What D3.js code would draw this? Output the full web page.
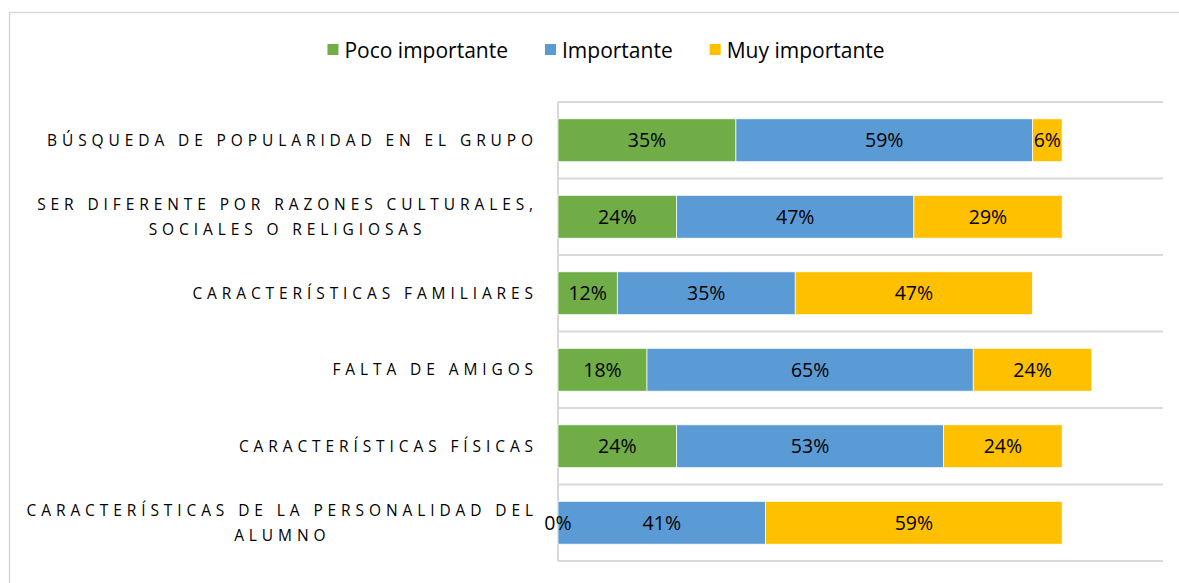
<!DOCTYPE html>
<html>
<head>
<meta charset="utf-8">
<script src="https://cdn.jsdelivr.net/npm/d3@7"></script>
<style>
  html, body { margin: 0; padding: 0; background: #fff; }
  svg { display: block; font-family: "Open Sans", Lato, sans-serif; }
</style>
</head>
<body>
<svg id="chart" width="1179" height="583"></svg>
<script>
// ---- data ----
const categories = [
  "BÚSQUEDA DE POPULARIDAD EN EL GRUPO",
  "SER DIFERENTE POR RAZONES CULTURALES,\nSOCIALES O RELIGIOSAS",
  "CARACTERÍSTICAS FAMILIARES",
  "FALTA DE AMIGOS",
  "CARACTERÍSTICAS FÍSICAS",
  "CARACTERÍSTICAS DE LA PERSONALIDAD DEL\nALUMNO"
];
const seriesNames = ["Poco importante", "Importante", "Muy importante"];
const pocoImportante = [0.3529, 0.2353, 0.1176, 0.1765, 0.2353, 0];
const importante     = [0.5882, 0.4706, 0.3529, 0.6471, 0.5294, 0.4118];
const muyImportante  = [0.0588, 0.2941, 0.4706, 0.2353, 0.2353, 0.5882];
const colors = ["#70AD47", "#5B9BD5", "#FFC000"];

// ---- layout ----
const svg = d3.select("#chart");
const W = 1179, H = 583;
const plot = { left: 558, right: 1163, top: 102, bottom: 561 };

svg.append("rect").attr("x", 9.5).attr("y", 12.5).attr("width", W).attr("height", H)
  .attr("fill", "#fff").attr("stroke", "#d9d9d9").attr("stroke-width", 1.5);

const x = d3.scaleLinear().domain([0, 1.2]).range([plot.left, plot.right]);
const y = d3.scaleBand().domain(categories).range([plot.top, plot.bottom])
  .paddingInner(0.44).paddingOuter(0.22);

const table = categories.map((c, i) => ({
  cat: c, s0: pocoImportante[i], s1: importante[i], s2: muyImportante[i]
}));
const stack = d3.stack().keys(["s0", "s1", "s2"])(table);

// gridlines at band boundaries
const step = y.step();
const boundaries = d3.range(categories.length + 1).map(i => plot.top + i * step);
svg.append("g").selectAll("line").data(boundaries).join("line")
  .attr("x1", plot.left).attr("x2", plot.right)
  .attr("y1", d => d).attr("y2", d => d)
  .attr("stroke", "#d9d9d9").attr("stroke-width", 2);
svg.append("line").attr("x1", plot.left).attr("x2", plot.left)
  .attr("y1", plot.top).attr("y2", plot.bottom)
  .attr("stroke", "#d9d9d9").attr("stroke-width", 2);

// bars
const gBars = svg.append("g");
stack.forEach((layer, k) => {
  gBars.append("g").selectAll("rect").data(layer).join("rect")
    .attr("x", d => x(d[0]))
    .attr("y", d => y(d.data.cat))
    .attr("width", d => x(d[1]) - x(d[0]))
    .attr("height", y.bandwidth())
    .attr("fill", colors[k])
    .attr("stroke", "#fff").attr("stroke-width", 0.7);
});

// data labels
const fmt = d3.format(".0%");
stack.forEach((layer, k) => {
  svg.append("g").selectAll("text").data(layer).join("text")
    .attr("x", d => (x(d[0]) + x(d[1])) / 2)
    .attr("y", d => y(d.data.cat) + y.bandwidth() / 2)
    .attr("dy", "0.36em")
    .attr("text-anchor", "middle")
    .attr("font-size", 19.5)
    .attr("fill", "#000")
    .text(d => fmt(d[1] - d[0]));
});

// category labels
const gCat = svg.append("g");
categories.forEach(c => {
  const lines = c.split("\n");
  const cy = y(c) + y.bandwidth() / 2;
  const lh = 25;
  const t = gCat.append("text")
    .attr("font-size", 15.5)
    .attr("letter-spacing", "4.9px")
    .attr("fill", "#000");
  const spans = lines.map((ln, i) => t.append("tspan")
    .attr("y", cy + (i - (lines.length - 1) / 2) * lh)
    .attr("dy", "0.36em")
    .text(ln));
  const widths = spans.map(s => s.node().getComputedTextLength());
  const maxW = d3.max(widths);
  const right = 538;
  const cx = right - maxW / 2;
  spans.forEach(s => s.attr("x", cx).attr("text-anchor", "middle"));
});

// legend
const leg = svg.append("g");
const legItems = seriesNames.map((n, i) => {
  const g = leg.append("g");
  g.append("rect").attr("x", 0).attr("y", -6).attr("width", 11).attr("height", 11).attr("fill", colors[i]);
  const t = g.append("text").attr("x", 17).attr("y", 0).attr("dy", "0.36em")
    .attr("font-size", 21).attr("fill", "#000").text(n);
  return { g, w: 17 + t.node().getComputedTextLength() };
});
const gap = 37;
const totalW = d3.sum(legItems, d => d.w) + gap * (legItems.length - 1);
let lx = 606 - totalW / 2;
legItems.forEach(it => {
  it.g.attr("transform", `translate(${lx},50)`);
  lx += it.w + gap;
});
</script>
</body>
</html>
